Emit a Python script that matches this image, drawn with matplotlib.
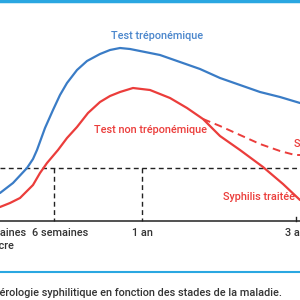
import matplotlib.pyplot as plt

# curves (x: position on time axis, y: level, screen units, top = 0)
blue_x = [0, 13, 27, 33, 37, 41, 45, 53, 60, 67, 77, 87, 100, 110, 120, 130, 140, 160, 180, 200, 220, 240, 260, 280, 300]
blue_y = [193, 183, 168, 159, 150, 139, 128, 110, 95, 83, 70, 61, 54, 50, 48, 49, 51, 55, 62, 69, 78, 85, 92, 97, 103]

red_x = [0, 10, 20, 33, 40, 47, 58, 67, 77, 88, 100, 110, 120, 133, 150, 170, 187, 203, 220, 240, 263, 283, 300]
red_y = [207, 203, 198, 185, 173, 163, 150, 138, 127, 113, 102, 96, 92, 88, 90, 98, 108, 119, 136, 150, 167, 184, 200]

untreated_x = [203, 220, 240, 260, 280, 295, 300]
untreated_y = [119, 126, 135, 144, 151, 155, 155]

tick_x = [-2, 60, 142, 298]
tick_labels = ["3 semaines", "6 semaines", "1 an", "3 ans"]

threshold_y = 168
axis_y = 221

blue = "#3a7cc6"
red = "#eb3d3b"
cyan = "#2aa7e1"
grey = "#333333"

plt.rcParams['font.family'] = ['Roboto', 'DejaVu Sans']
fs = 7.8

fig = plt.figure(figsize=(3, 3), dpi=100)
ax = fig.add_axes([0, 0, 1, 1])
ax.set_xlim(0, 300)
ax.set_ylim(300, 0)
ax.axis('off')

# frame lines of the original figure
ax.axhline(1, color=cyan, lw=2.5)
ax.axhline(272, color=cyan, lw=1.5)

# axis and reference lines
ax.axhline(axis_y, color="#222222", lw=1.1)
ax.axhline(threshold_y, color="#222222", lw=1.0, ls=(0, (3.5, 2.5)))
for x in [54, 142]:
    ax.plot([x, x], [threshold_y, axis_y], color="#222222", lw=1.0, ls=(0, (3.5, 2.5)))
ax.plot([296, 296], [axis_y - 4, axis_y], color="#222222", lw=1.0)

# curves
ax.plot(blue_x, blue_y, color=blue, lw=1.6, solid_capstyle='round')
ax.plot(red_x, red_y, color=red, lw=1.6, solid_capstyle='round')
ax.plot(untreated_x, untreated_y, color=red, lw=1.4, ls=(0, (4, 2.5)))

# curve labels
kw = dict(fontsize=fs, fontweight='medium', va='center')
ax.text(157, 36, "Test tréponémique", color="#4a86cc", ha='center', **kw)
ax.text(150, 130, "Test non tréponémique", color=red, ha='center', **kw)
ax.text(259, 197, "Syphilis traitée", color=red, ha='center', **kw)
ax.text(294, 144, "Syphilis non traitée", color=red, ha='left', **kw)

# tick labels
ax.text(26, 233, "3 semaines", color=grey, ha='right', **kw)
ax.text(14, 246, "chancre", color=grey, ha='right', **kw)
for x, lab in zip(tick_x[1:], tick_labels[1:]):
    ax.text(x, 233, lab, color=grey, ha='center', **kw)

# caption
ax.text(-7, 293, "Sérologie syphilitique en fonction des stades de la maladie.",
        color=grey, ha='left', **kw)

fig.savefig("out.png", dpi=100)
